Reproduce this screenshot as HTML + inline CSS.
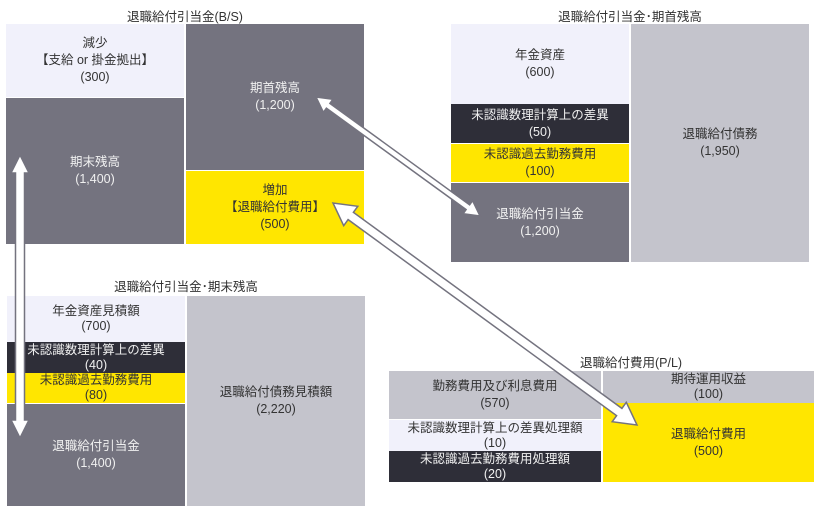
<!DOCTYPE html>
<html><head><meta charset="utf-8"><style>
body{margin:0;width:817px;height:514px;position:relative;background:#fff;font-family:"Liberation Sans","Noto Sans CJK JP",sans-serif;font-size:12.5px;overflow:hidden}
.b{position:absolute;display:flex;flex-direction:column;align-items:center;justify-content:center;text-align:center;line-height:17px;box-sizing:border-box;white-space:nowrap}
.s{line-height:15px}
.t{position:absolute;font-size:12.5px;color:#333;text-align:center;white-space:nowrap}
.L{background:#f1f1fb;color:#333}.D{background:#74737f;color:#f0f0f0}.K{background:#2e2e38;color:#f0f0f0}.Y{background:#ffe600;color:#333}.G{background:#c4c4cc;color:#333}
svg{position:absolute;left:0;top:0}
</style></head><body>
<div class="t" style="left:6px;width:358px;top:6px">退職給付引当金(B/S)</div>
<div class="b L" style="left:6px;top:24px;width:178px;height:73px">減少<br>【支給 or 掛金拠出】<br>(300)</div>
<div class="b D" style="left:6px;top:98px;width:178px;height:146px">期末残高<br>(1,400)</div>
<div class="b D" style="left:186px;top:24px;width:178px;height:146px">期首残高<br>(1,200)</div>
<div class="b Y" style="left:186px;top:171px;width:178px;height:73px">増加<br>【退職給付費用】<br>(500)</div>

<div class="t" style="left:451px;width:358px;top:6px">退職給付引当金･期首残高</div>
<div class="b L" style="left:451px;top:24px;width:178px;height:80px">年金資産<br>(600)</div>
<div class="b K" style="left:451px;top:104px;width:178px;height:39px">未認識数理計算上の差異<br>(50)</div>
<div class="b Y" style="left:451px;top:144px;width:178px;height:38px">未認識過去勤務費用<br>(100)</div>
<div class="b D" style="left:451px;top:183px;width:178px;height:79px">退職給付引当金<br>(1,200)</div>
<div class="b G" style="left:631px;top:24px;width:178px;height:238px">退職給付債務<br>(1,950)</div>

<div class="t" style="left:7px;width:358px;top:276px">退職給付引当金･期末残高</div>
<div class="b L s" style="left:7px;top:296px;width:178px;height:46px">年金資産見積額<br>(700)</div>
<div class="b K s" style="left:7px;top:342px;width:178px;height:31px">未認識数理計算上の差異<br>(40)</div>
<div class="b Y s" style="left:7px;top:373px;width:178px;height:30px">未認識過去勤務費用<br>(80)</div>
<div class="b D" style="left:7px;top:404px;width:178px;height:102px">退職給付引当金<br>(1,400)</div>
<div class="b G" style="left:187px;top:296px;width:178px;height:210px">退職給付債務見積額<br>(2,220)</div>

<div class="t" style="left:580px;top:352px;text-align:left">退職給付費用(P/L)</div>
<div class="b G" style="left:389px;top:371px;width:212px;height:48px">勤務費用及び利息費用<br>(570)</div>
<div class="b L s" style="left:389px;top:420px;width:212px;height:31px">未認識数理計算上の差異処理額<br>(10)</div>
<div class="b K s" style="left:389px;top:451px;width:212px;height:31px">未認識過去勤務費用処理額<br>(20)</div>
<div class="b G s" style="left:603px;top:371px;width:211px;height:32px">期待運用収益<br>(100)</div>
<div class="b Y" style="left:603px;top:403px;width:211px;height:79px">退職給付費用<br>(500)</div>

<svg width="817" height="514" id="s"></svg>
<script>
function arr(x1,y1,x2,y2,sw,hw,hl){
 var dx=x2-x1,dy=y2-y1,L=Math.hypot(dx,dy),ux=dx/L,uy=dy/L,px=-uy,py=ux;
 function p(d,o){return (x1+ux*d+px*o).toFixed(1)+","+(y1+uy*d+py*o).toFixed(1);}
 var pts=[p(0,0),p(hl,hw/2),p(hl,sw/2),p(L-hl,sw/2),p(L-hl,hw/2),p(L,0),p(L-hl,-hw/2),p(L-hl,-sw/2),p(hl,-sw/2),p(hl,-hw/2)];
 var e=document.createElementNS("http://www.w3.org/2000/svg","polygon");
 e.setAttribute("points",pts.join(" "));e.setAttribute("fill","#fff");e.setAttribute("stroke","#74737f");e.setAttribute("stroke-width","1.5");
 document.getElementById("s").appendChild(e);
}
arr(316,97,480,216,6,16,15);
arr(333,203,637,425,9,24,22);
arr(20,155,20,438,9,18,18);
</script>
</body></html>
